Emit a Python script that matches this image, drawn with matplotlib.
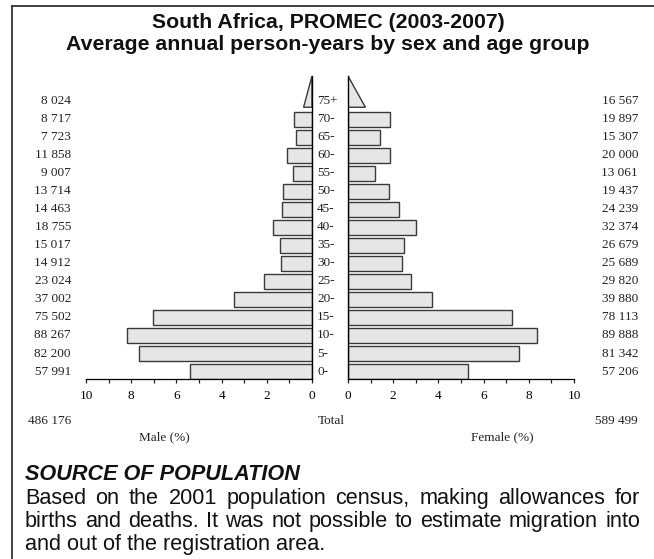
import numpy as np
import matplotlib
matplotlib.use('Agg')
import matplotlib.pyplot as plt
from matplotlib.patches import Polygon
from matplotlib.lines import Line2D
import matplotlib.transforms as mtransforms

ages = ['0-', '5-', '10-', '15-', '20-', '25-', '30-', '35-', '40-', '45-',
        '50-', '55-', '60-', '65-', '70-', '75+']
male = [57991, 82200, 88267, 75502, 37002, 23024, 14912, 15017, 18755, 14463,
        13714, 9007, 11858, 7723, 8717, 8024]
female = [57206, 81342, 89888, 78113, 39880, 29820, 25689, 26679, 32374, 24239,
          19437, 13061, 20000, 15307, 19897, 16567]
male_total = 486176
female_total = 589499
x_ticks = [0, 2, 4, 6, 8, 10]

title1 = 'South Africa, PROMEC (2003-2007)'
title2 = 'Average annual person-years by sex and age group'
source_head = 'SOURCE OF POPULATION'
source_lines = ['Based on the 2001 population census, making allowances for',
                'births and deaths. It was not possible to estimate migration into',
                'and out of the registration area.']

W, H = 654, 559
fig = plt.figure(figsize=(W / 100, H / 100), dpi=100)

grand = male_total + female_total
male_pct = np.array(male) / grand * 100
female_pct = np.array(female) / grand * 100

bar_h = 0.83
y_bot = -bar_h / 2
y_top = 16.4
ax_bottom_px, ax_top_px = 379, 76


def px_axes(x0, x1):
    return fig.add_axes([x0 / W, 1 - ax_bottom_px / H, (x1 - x0) / W, (ax_bottom_px - ax_top_px) / H])


axm = px_axes(86, 312)
axf = px_axes(348, 574)

face = '#e6e6e6'
edge = '#3a3a3a'
serif = 'Liberation Serif'
n = len(ages)
ypos = np.arange(n)

for ax, pct in [(axm, male_pct), (axf, female_pct)]:
    ax.barh(ypos[:-1], pct[:-1], height=bar_h, color=face, edgecolor=edge, linewidth=1.0)
    # open-ended group drawn as a triangle
    b = pct[-1] / 2
    tri = Polygon([[0, n - 1 - bar_h / 2 + 0.08], [b, n - 1 - bar_h / 2 + 0.08], [0, y_top]],
                  closed=True, facecolor=face, edgecolor=edge, linewidth=1.0)
    ax.add_patch(tri)
    ax.set_ylim(y_bot, y_top)
    ax.set_yticks([])
    ax.set_xticks(x_ticks)
    ax.set_xticks(range(11), minor=True)
    ax.tick_params(axis='x', which='both', length=3, width=0.9, color='#222', direction='out', pad=5)
    ax.tick_params(axis='x', labelsize=9.5)
    for lab in ax.get_xticklabels():
        lab.set_fontfamily(serif)
    for s in ['top', 'left', 'right', 'bottom']:
        ax.spines[s].set_visible(False)
    ax.spines['bottom'].set_visible(True)
    ax.spines['bottom'].set_linewidth(0.9)
    ax.patch.set_alpha(0)

axm.set_xlim(10, 0)
axf.set_xlim(0, 10)
axm.spines['right'].set_visible(True)
axm.spines['right'].set_linewidth(1.0)
axf.spines['left'].set_visible(True)
axf.spines['left'].set_linewidth(1.0)

# labels beside the bars
tr = mtransforms.blended_transform_factory(fig.transFigure, axm.transData)
for i in range(n):
    fig.text(71 / W, ypos[i], '{:,}'.format(male[i]).replace(',', ' '), transform=tr,
             ha='right', va='center', fontsize=9.5, family=serif, color='#222')
    fig.text(638 / W, ypos[i], '{:,}'.format(female[i]).replace(',', ' '), transform=tr,
             ha='right', va='center', fontsize=9.5, family=serif, color='#222')
    fig.text(317 / W, ypos[i], ages[i], transform=tr,
             ha='left', va='center', fontsize=9.5, family=serif, color='#222')

fig.text(71 / W, 1 - 421 / H, '{:,}'.format(male_total).replace(',', ' '), ha='right', va='center',
         fontsize=9.5, family=serif, color='#222')
fig.text(638 / W, 1 - 421 / H, '{:,}'.format(female_total).replace(',', ' '), ha='right', va='center',
         fontsize=9.5, family=serif, color='#222')
fig.text(331 / W, 1 - 421 / H, 'Total', ha='center', va='center', fontsize=9.5, family=serif, color='#222')
fig.text(164 / W, 1 - 437 / H, 'Male (%)', ha='center', va='center', fontsize=9.5, family=serif, color='#222')
fig.text(502 / W, 1 - 437 / H, 'Female (%)', ha='center', va='center', fontsize=9.5, family=serif, color='#222')

# titles
sans = 'Liberation Sans'
fig.text(328 / W, 1 - 22 / H, title1, ha='center', va='center', fontsize=15.3, fontweight='bold',
         family=sans, color='#111')
fig.text(328 / W, 1 - 44 / H, title2, ha='center', va='center', fontsize=15.3, fontweight='bold',
         family=sans, color='#111')

# source note, first two lines justified word by word
fig.text(25 / W, 1 - 480 / H, source_head, ha='left', va='baseline', fontsize=15.6, fontweight='bold',
         fontstyle='italic', family=sans, color='#111')

renderer = fig.canvas.get_renderer()
left_px, right_px = 25, 640
line_y = [504, 527, 550]
for k, line in enumerate(source_lines):
    yy = 1 - line_y[k] / H
    words = line.split(' ')
    if k == len(source_lines) - 1:
        fig.text(left_px / W, yy, line, ha='left', va='baseline', fontsize=15.6, family=sans, color='#111')
        continue
    txts = [fig.text(0, yy, w, ha='left', va='baseline', fontsize=15.6, family=sans, color='#111') for w in words]
    widths = [t.get_window_extent(renderer).width for t in txts]
    gap = (right_px - left_px - sum(widths)) / (len(words) - 1)
    x = left_px
    for t, w in zip(txts, widths):
        t.set_x(x / W)
        x += w + gap

# frame
fig.add_artist(Line2D([12 / W, 1], [1 - 6 / H, 1 - 6 / H], color='#333', linewidth=1.3, transform=fig.transFigure))
fig.add_artist(Line2D([12 / W, 12 / W], [1 - 6 / H, 0], color='#333', linewidth=1.3, transform=fig.transFigure))

fig.savefig('out.png', dpi=100)
